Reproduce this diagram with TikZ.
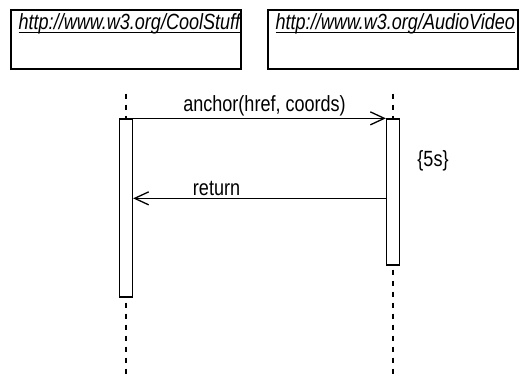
\documentclass[tikz,border=0pt]{standalone}
\usepackage{fontspec}
\setmainfont{Liberation Sans}[FakeStretch=0.82]
\usetikzlibrary{arrows.meta}

% underlined object name, as in a sequence chart header
\newcommand{\objname}[1]{\setbox0\hbox{\itshape #1}\rlap{\vrule width \wd0 height -2.2pt depth 3.4pt}\box0}

\begin{document}
\begin{tikzpicture}[x=1pt,y=-1pt,line width=1.3pt,font=\fontsize{22}{25}\selectfont,
    obj/.style={draw,minimum width=#1,minimum height=59pt,inner sep=0pt},
    act/.style={draw,fill=white,minimum width=13pt,inner sep=0pt},
    life/.style={dash pattern=on 5pt off 6pt},
    msg/.style={-{Straight Barb[length=14pt,width=13pt]}}]
\useasboundingbox (0,0) rectangle (521,377);
\draw
    node [obj=230pt] at (126,39.5) (cool) {}
    node [obj=250pt] at (393,39.5) (av) {};
\node [anchor=base west,inner sep=0pt] at (18,30) (coolname) {\objname{http://www.w3.org/CoolStuff}};
\node [anchor=base west,inner sep=0pt] at (275,30) (avname) {\objname{http://www.w3.org/AudioVideo}};
\coordinate (coolend) at (cool.south |- 0,377);
\coordinate (avend) at (av.south |- 0,377);
\draw [life] (cool.south) ++(0,24) -- (coolend);
\draw [life] (av.south) ++(0,24) -- (avend);
\node [act,minimum height=178pt] at (cool.south |- 0,208) (coolbar) {};
\node [act,minimum height=146pt] at (av.south |- 0,192) (avbar) {};
\draw (coolbar.north east) [msg] -- (avbar.north west)
    node [pos=0.52,above,inner sep=2pt] (call) {anchor(href, coords)};
\draw ([yshift=-80pt]avbar.north west) [msg] -- ([yshift=-80pt]coolbar.north east)
    node [pos=0.67,above,inner sep=2pt] (ret) {return};
\node at (433,161) (dur) {\{5s\}};
\end{tikzpicture}
\end{document}
